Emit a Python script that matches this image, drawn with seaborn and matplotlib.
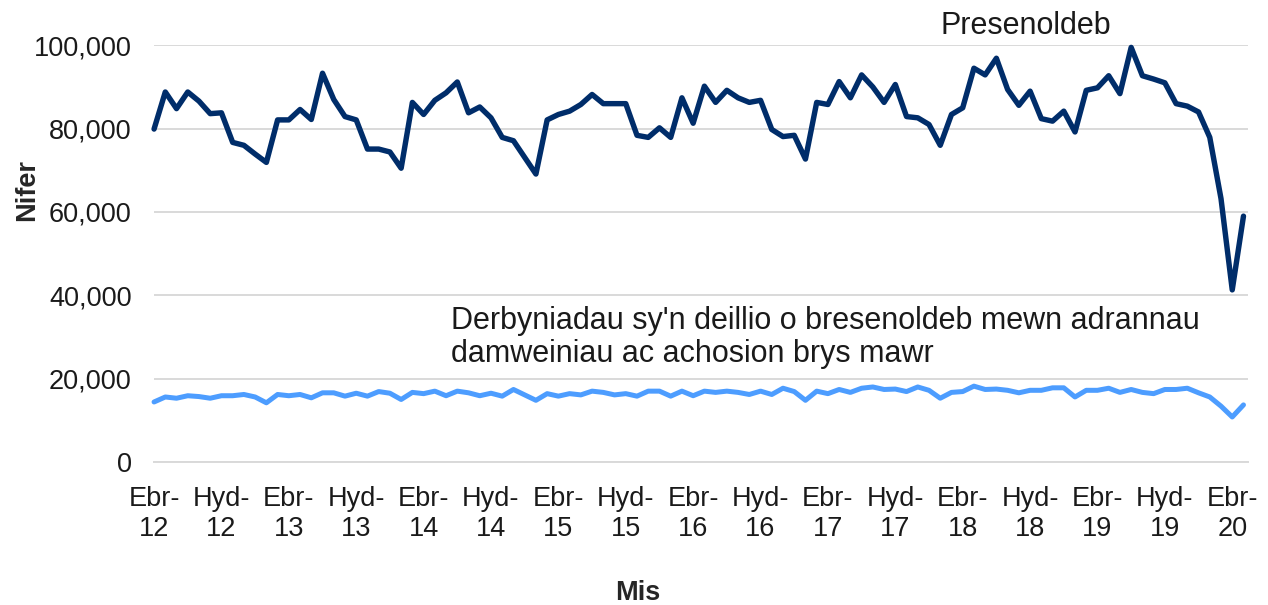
import numpy as np
import pandas as pd
import matplotlib
matplotlib.use("Agg")
import matplotlib.pyplot as plt
import seaborn as sns

# -----------------------------
# Data: monthly counts, Apr 2012 - May 2020
# -----------------------------
presenoldeb = [
    79.9, 88.8, 84.8, 88.8, 86.6, 83.6, 83.8, 76.7, 76.0, 73.9,
    71.9, 82.1, 82.1, 84.6, 82.2, 93.3, 87.0, 82.9, 82.1, 75.1,
    75.1, 74.4, 70.5, 86.3, 83.4, 86.8, 88.6, 91.2, 83.8, 85.2,
    82.6, 77.9, 77.1, 73.1, 69.1, 82.1, 83.4, 84.2, 85.8, 88.2,
    86.0, 86.0, 86.0, 78.4, 77.9, 80.2, 77.9, 87.4, 81.3, 90.2,
    86.3, 89.2, 87.4, 86.3, 86.8, 79.8, 78.1, 78.4, 72.7, 86.3,
    85.8, 91.3, 87.4, 92.9, 90.0, 86.3, 90.6, 82.9, 82.6, 81.0,
    76.0, 83.4, 85.0, 94.5, 92.9, 96.9, 89.4, 85.6, 89.0, 82.4,
    81.8, 84.2, 79.2, 89.2, 89.8, 92.7, 88.4, 99.5, 92.7, 91.9,
    91.0, 86.0, 85.4, 84.0, 77.9, 63.2, 41.3, 59.0,
]
derbyniadau = [
    14.4, 15.6, 15.3, 15.9, 15.7, 15.3, 15.9, 15.9, 16.2, 15.6,
    14.2, 16.2, 15.9, 16.2, 15.4, 16.6, 16.6, 15.8, 16.5, 15.8,
    16.9, 16.5, 15.0, 16.7, 16.4, 17.0, 15.9, 17.0, 16.6, 15.9,
    16.5, 15.8, 17.4, 16.1, 14.8, 16.4, 15.8, 16.4, 16.1, 17.0,
    16.7, 16.1, 16.4, 15.8, 17.0, 17.0, 15.8, 17.0, 15.9, 17.0,
    16.7, 17.0, 16.7, 16.2, 17.0, 16.2, 17.7, 16.9, 14.8, 17.0,
    16.4, 17.4, 16.7, 17.7, 18.0, 17.4, 17.5, 16.9, 18.0, 17.2,
    15.3, 16.7, 16.9, 18.2, 17.4, 17.5, 17.2, 16.6, 17.2, 17.2,
    17.8, 17.8, 15.6, 17.2, 17.2, 17.7, 16.7, 17.4, 16.7, 16.4,
    17.4, 17.4, 17.7, 16.6, 15.6, 13.4, 10.8, 13.7,
]
tick_labels = [
    'Ebr-\n12', 'Hyd-\n12', 'Ebr-\n13', 'Hyd-\n13', 'Ebr-\n14', 'Hyd-\n14',
    'Ebr-\n15', 'Hyd-\n15', 'Ebr-\n16', 'Hyd-\n16', 'Ebr-\n17', 'Hyd-\n17',
    'Ebr-\n18', 'Hyd-\n18', 'Ebr-\n19', 'Hyd-\n19', 'Ebr-\n20',
]
label_top = 'Presenoldeb'
label_bottom = "Derbyniadau sy'n deillio o bresenoldeb mewn adrannau\ndamweiniau ac achosion brys mawr"

df = pd.DataFrame({
    'month': np.arange(len(presenoldeb)),
    'Presenoldeb': np.array(presenoldeb) * 1000,
    'Derbyniadau': np.array(derbyniadau) * 1000,
})

# -----------------------------
# Style
# -----------------------------
sns.set_style('white')
plt.rcParams['font.family'] = ['Liberation Sans', 'DejaVu Sans']

grid_col = '#D9D9D9'
fig = plt.figure(figsize=(12.68, 6.05), dpi=100)
ax = fig.add_axes([0.1215, 0.2364, 0.8627, 0.6887])

sns.lineplot(data=df, x='month', y='Presenoldeb', color='#002D6A', linewidth=3.9, ax=ax, clip_on=False)
sns.lineplot(data=df, x='month', y='Derbyniadau', color='#4D9DFF', linewidth=3.6, ax=ax, clip_on=False)

ax.set_xlim(0, 97.4)
ax.set_ylim(0, 100000)
ax.set_yticks(range(0, 100001, 20000))
ax.yaxis.set_major_formatter(matplotlib.ticker.FuncFormatter(lambda v, p: f'{int(v):,}'))
ax.set_xticks(np.arange(0, 97, 6))
ax.set_xticklabels(tick_labels)
ax.set_xticks(np.arange(3, 97, 6), minor=True)

ax.grid(axis='y', color=grid_col, linewidth=1.4)
ax.set_axisbelow(True)
for s in ['top', 'right', 'left']:
    ax.spines[s].set_visible(False)
ax.spines['bottom'].set_color(grid_col)
ax.spines['bottom'].set_linewidth(1.4)

ax.tick_params(axis='x', which='both', direction='in', length=5, width=1.4,
               color=grid_col, labelsize=19.5, pad=17, labelcolor='#1a1a1a')
ax.tick_params(axis='y', length=0, labelsize=19.5, pad=16, labelcolor='#1a1a1a')

ax.set_xlabel('Mis', fontsize=19.5, fontweight='bold')
ax.set_ylabel('Nifer', fontsize=19.5, fontweight='bold')
ax.xaxis.set_label_coords(0.442, -0.283)
ax.yaxis.set_label_coords(-0.104, 0.653)

ax.text(77.6, 104600, label_top, fontsize=22, ha='center', va='center', color='#1a1a1a')
ax.text(26.4, 29800, label_bottom, fontsize=22, ha='left', va='center',
        color='#1a1a1a', linespacing=1.12)

plt.savefig('out.png', dpi=100)
